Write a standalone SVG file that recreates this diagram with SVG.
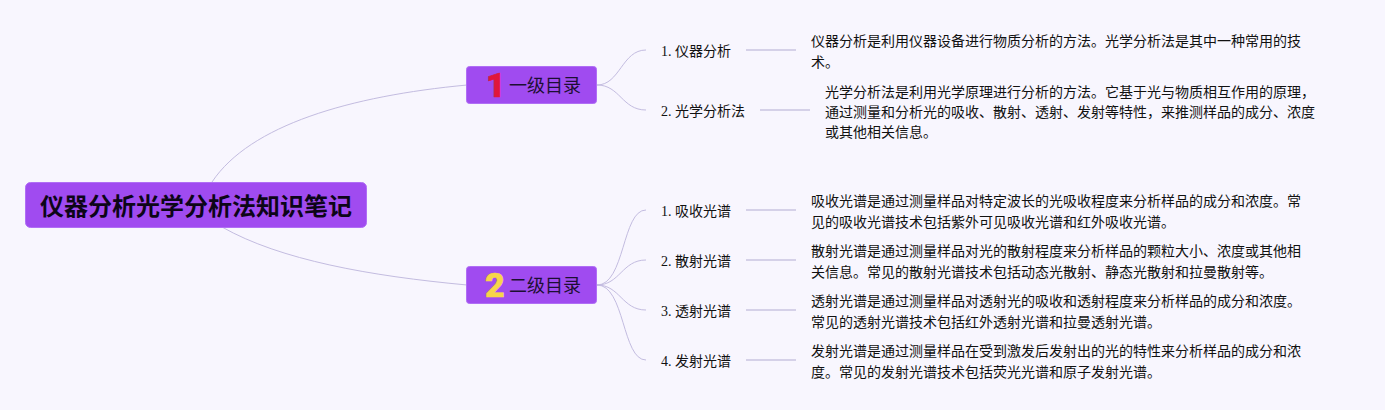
<svg xmlns="http://www.w3.org/2000/svg" width="1385" height="410" viewBox="0 0 1385 410">
<style>
.c{fill:none;stroke:#c3bce0;stroke-width:1}
.u{fill:none;stroke:#d5d1e8;stroke-width:1.8}
.box{fill:#a04bf0;stroke:#b06ef5;stroke-width:1}
text{font-family:"Liberation Serif","Noto Sans CJK SC",serif;fill:#111}
.t{font-size:14px}
.s{font-size:14px}
.m{font-family:"Noto Sans CJK SC","Liberation Sans",sans-serif;font-size:18px;fill:#1c0f33}
.r{font-family:"Noto Sans CJK SC","Liberation Sans",sans-serif;font-size:24px;font-weight:700;fill:#0d0518}
.n{font-family:Roboto,"Liberation Sans",sans-serif;font-weight:900;font-size:34px;stroke-width:.6;stroke-linejoin:round}
</style>
<rect width="1385" height="410" fill="#f8f6fe"/>
<g id="connectors">
<path class="c" d="M212 182C250 125 350 96 467 85"/>
<path class="c" d="M222 227C280 260 370 276 467 285"/>
<path class="c" d="M597 85C620 85 622 50 646 50"/>
<path class="c" d="M597 85C620 85 622 110 646 110"/>
<path class="c" d="M597 285C625 285 622 210 646 210"/>
<path class="c" d="M597 285C620 285 622 260 646 260"/>
<path class="c" d="M597 285C620 285 622 310 646 310"/>
<path class="c" d="M597 285C625 285 622 360 646 360"/>
<path class="u" d="M746 50H796M760 110H810M746 210H796M746 260H796M746 310H796M746 360H796"/>
</g>
<g id="root"><rect class="box" x="25.500" y="182.500" width="341" height="45" rx="5"/><text class="r" x="40" y="215">仪器分析光学分析法知识笔记</text></g>
<g id="level1"><rect class="box" x="466.500" y="66.500" width="130" height="37" rx="3"/><text class="n" x="486" y="97" style="fill:#e0163c;stroke:#e0163c">1</text><text class="m" x="509" y="92">一级目录</text></g>
<g id="level2"><rect class="box" x="466.500" y="266.500" width="130" height="37" rx="3"/><text class="n" x="485" y="297" style="fill:#f7d54a;stroke:#f7d54a">2</text><text class="m" x="509" y="292">二级目录</text></g>
<g id="n1"><text class="s" x="661" y="56">1. 仪器分析</text></g>
<g id="n2"><text class="s" x="661" y="116">2. 光学分析法</text></g>
<g id="n3"><text class="s" x="661" y="216">1. 吸收光谱</text></g>
<g id="n4"><text class="s" x="661" y="266">2. 散射光谱</text></g>
<g id="n5"><text class="s" x="661" y="316">3. 透射光谱</text></g>
<g id="n6"><text class="s" x="661" y="366">4. 发射光谱</text></g>
<g id="d1"><text class="t" x="811" y="46">仪器分析是利用仪器设备进行物质分析的方法。光学分析法是其中一种常用的技</text><text class="t" x="811" y="67">术。</text></g>
<g id="d2"><text class="t" x="825" y="97">光学分析法是利用光学原理进行分析的方法。它基于光与物质相互作用的原理，</text><text class="t" x="825" y="117">通过测量和分析光的吸收、散射、透射、发射等特性，来推测样品的成分、浓度</text><text class="t" x="825" y="137">或其他相关信息。</text></g>
<g id="d3"><text class="t" x="811" y="206">吸收光谱是通过测量样品对特定波长的光吸收程度来分析样品的成分和浓度。常</text><text class="t" x="811" y="227">见的吸收光谱技术包括紫外可见吸收光谱和红外吸收光谱。</text></g>
<g id="d4"><text class="t" x="811" y="256">散射光谱是通过测量样品对光的散射程度来分析样品的颗粒大小、浓度或其他相</text><text class="t" x="811" y="277">关信息。常见的散射光谱技术包括动态光散射、静态光散射和拉曼散射等。</text></g>
<g id="d5"><text class="t" x="811" y="306">透射光谱是通过测量样品对透射光的吸收和透射程度来分析样品的成分和浓度。</text><text class="t" x="811" y="327">常见的透射光谱技术包括红外透射光谱和拉曼透射光谱。</text></g>
<g id="d6"><text class="t" x="811" y="356">发射光谱是通过测量样品在受到激发后发射出的光的特性来分析样品的成分和浓</text><text class="t" x="811" y="377">度。常见的发射光谱技术包括荧光光谱和原子发射光谱。</text></g>
</svg>
